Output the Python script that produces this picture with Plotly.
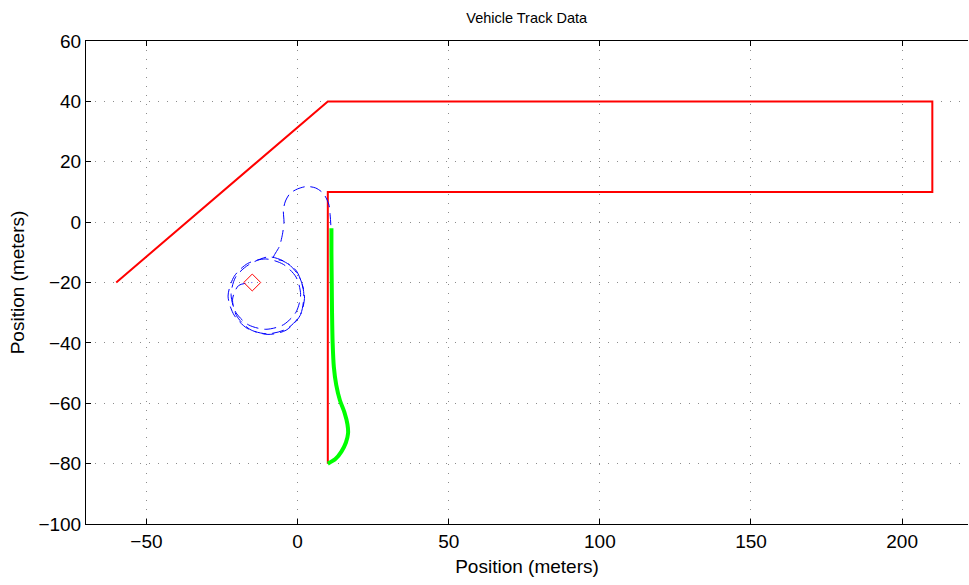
import plotly.graph_objects as go

# Reference track (red)
track_x = [-60, 10, 210, 210, 10, 10]
track_y = [-20, 40, 40, 10, 10, -80]

# Vehicle path (green)
green_x = [11.2, 11.2, 11.3, 11.4, 11.6, 12.0, 12.8, 14.0, 15.5, 16.5, 16.7, 16.0, 14.5, 12.5, 10.0]
green_y = [-2, -10, -20, -30, -40, -48, -54, -59, -63, -67, -70, -73, -76, -78.5, -80]

# Other vehicle path (blue dashed)
blue_x = [11.0, 10.8, 10.3, 8.5, 6.0, 3.0, 0.0, -2.5, -4.0, -4.7, -4.5, -5.0, -6.0, -8.0,
          -5.0, -0.5, 2.0, 1.0, -3.5, -10.0, -16.5, -21.0, -23.0, -21.0, -16.5, -10.5,
          -4.7, -0.5, 1.0, -0.5, -4.7, -10.5, -16.3, -20.5, -22.0, -20.5, -16.3, -9.5,
          -3.5, 0.5, 2.3, 0.8, -3.8, -9.8, -15.8, -20.2, -21.5, -19.5, -15.0]
blue_y = [-1.0, 2.0, 6.0, 9.5, 11.3, 11.8, 11.0, 9.5, 7.0, 4.0, 0.0, -4.0, -8.0, -12.0,
          -12.8, -16.0, -23.0, -30.5, -35.3, -37.0, -35.3, -30.8, -24.5, -18.0, -13.7, -12.2,
          -14.0, -18.2, -24.0, -29.8, -34.0, -35.5, -34.0, -29.8, -24.0, -18.2, -14.2, -11.5,
          -13.5, -18.0, -24.5, -31.0, -35.8, -37.2, -35.5, -31.0, -25.5, -21.0, -20.0]

# Marker (red diamond)
mark_x = [-15]
mark_y = [-20]

x_ticks = [-50, 0, 50, 100, 150, 200]
y_ticks = [-100, -80, -60, -40, -20, 0, 20, 40, 60]

fig = go.Figure()
fig.add_trace(go.Scatter(x=track_x, y=track_y, mode="lines",
                         line=dict(color="#ff0000", width=2)))
fig.add_trace(go.Scatter(x=blue_x, y=blue_y, mode="lines",
                         line=dict(color="#0000ff", width=1, dash="12px,6px", shape="spline", smoothing=0.8)))
fig.add_trace(go.Scatter(x=green_x, y=green_y, mode="lines",
                         line=dict(color="#00ff00", width=4, shape="spline", smoothing=0.8)))
fig.add_trace(go.Scatter(x=mark_x, y=mark_y, mode="markers",
                         marker=dict(symbol="diamond-open", color="#ff0000", size=13,
                                     line=dict(color="#ff0000", width=1))))

font = "Liberation Sans, Arial, Helvetica, sans-serif"
fig.update_layout(
    width=969, height=585,
    margin=dict(l=86, r=1, t=41, b=61),
    paper_bgcolor="white", plot_bgcolor="white",
    showlegend=False,
    font=dict(family=font, color="black", size=19),
    title=dict(text="Vehicle Track Data", x=0.5436, xanchor="center", y=0.969, yanchor="middle",
               font=dict(size=14.5, family=font, color="black")),
)
fig.update_xaxes(
    range=[-70, 221.8], tickvals=x_ticks, ticks="inside", ticklen=5, tickcolor="black",
    showline=True, linecolor="black", linewidth=1, mirror="ticks",
    showgrid=True, gridcolor="#8c8c8c", griddash="1px,8px", gridwidth=1, zeroline=False,
    tickfont=dict(size=19), title=dict(text="Position (meters)", font=dict(size=19), standoff=8),
)
fig.update_yaxes(
    range=[-100, 60], tickvals=y_ticks, ticks="inside", ticklen=5, tickcolor="black",
    showline=True, linecolor="black", linewidth=1, mirror=False,
    showgrid=True, gridcolor="#8c8c8c", griddash="1px,8px", gridwidth=1, zeroline=False,
    tickfont=dict(size=19), title=dict(text="Position (meters)", font=dict(size=19), standoff=8),
)

fig.write_html("out.html")
